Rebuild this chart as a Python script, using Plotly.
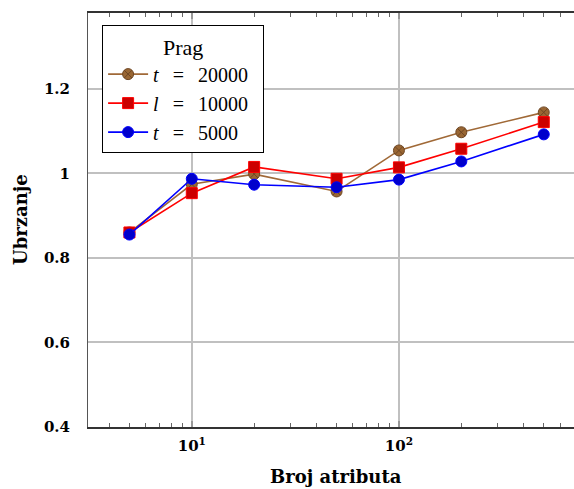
import plotly.graph_objects as go

x_vals = [5, 10, 20, 50, 100, 200, 500]
t20000 = [0.860, 0.974, 0.998, 0.957, 1.054, 1.097, 1.144]
t10000 = [0.860, 0.953, 1.015, 0.987, 1.014, 1.058, 1.121]
t5000 = [0.855, 0.987, 0.973, 0.967, 0.985, 1.028, 1.092]

SP = "\u2002\u2009"
series_names = [f"<i>t</i>{SP}={SP}20000\u2002", f"<i>l</i>{SP}={SP}10000\u2002", f"<i>t</i>{SP}={SP}5000\u2002"]
y_ticks = [0.4, 0.6, 0.8, 1.0, 1.2]
y_tick_text = ["0.4", "0.6", "0.8", "1", "1.2"]
x_ticks = [10, 100]
x_tick_text = ["10<sup>1</sup>", "10<sup>2</sup>"]

SERIF = "Liberation Serif"
BOLD = "DejaVu Serif"

fig = go.Figure()
fig.add_trace(go.Scatter(
    x=x_vals, y=t20000, name=series_names[0], mode="lines+markers",
    line=dict(color="rgb(160,105,55)", width=1.6),
    marker=dict(symbol="circle-x", size=11, color="rgb(153,102,51)",
                line=dict(color="rgb(110,70,35)", width=1)),
))
fig.add_trace(go.Scatter(
    x=x_vals, y=t10000, name=series_names[1], mode="lines+markers",
    line=dict(color="rgb(255,0,0)", width=1.6),
    marker=dict(symbol="square", size=11, color="rgb(204,0,0)",
                line=dict(color="rgb(255,0,0)", width=1)),
))
fig.add_trace(go.Scatter(
    x=x_vals, y=t5000, name=series_names[2], mode="lines+markers",
    line=dict(color="rgb(0,0,255)", width=1.6),
    marker=dict(symbol="circle", size=11, color="rgb(0,0,204)",
                line=dict(color="rgb(0,0,255)", width=1)),
))

fig.update_layout(
    width=574, height=489,
    margin=dict(l=88, r=0, t=13, b=62, autoexpand=False),
    paper_bgcolor="white", plot_bgcolor="white",
    font=dict(family=SERIF, size=19, color="black"),
    showlegend=True,
    legend=dict(
        x=0.029, y=0.971, xanchor="left", yanchor="top",
        bgcolor="white", bordercolor="black", borderwidth=1,
        font=dict(family=SERIF, size=20, color="black"),
        title=dict(text="Prag", side="top center", font=dict(family=SERIF, size=22)),
        itemwidth=40, tracegroupgap=0,
    ),
    annotations=[
        dict(text="<b>Broj atributa</b>", xref="paper", yref="paper",
             x=(336 - 88) / 486, y=-(476 - 427) / 414, xanchor="center", yanchor="middle",
             showarrow=False, font=dict(family=BOLD, size=18, color="black")),
        dict(text="<b>Ubrzanje</b>", xref="paper", yref="paper",
             x=-(88 - 20) / 486, y=(427 - 220) / 414, xanchor="center", yanchor="middle",
             textangle=-90, showarrow=False, font=dict(family=BOLD, size=18, color="black")),
    ],
)

fig.update_xaxes(
    type="log", range=[0.499, 2.845], automargin=False,
    tickvals=x_ticks, ticktext=x_tick_text,
    ticks="inside", ticklen=6, tickcolor="#999999", tickwidth=1.5,
    ticklabelstandoff=4,
    showgrid=True, gridcolor="#c0c0c0", gridwidth=1.5,
    showline=True, linecolor="#333333", linewidth=2, mirror="ticks",
    minor=dict(ticks="inside", ticklen=4, tickcolor="#666666", tickwidth=1,
               showgrid=False, dtick="D1"),
    tickfont=dict(family=BOLD, size=15, weight="bold"),
    zeroline=False,
)
fig.update_yaxes(
    range=[0.4, 1.379], automargin=False,
    tickvals=y_ticks, ticktext=y_tick_text,
    ticks="", ticklabelstandoff=14,
    showgrid=True, gridcolor="#c0c0c0", gridwidth=1.5,
    showline=True, linecolor="#555555", linewidth=1,
    tickfont=dict(family=BOLD, size=15, weight="bold"),
    zeroline=False,
)

fig.write_html(
    "out.html",
    config={"displayModeBar": False},
    post_script="document.body.style.margin='0';document.body.style.overflow='hidden';",
)
